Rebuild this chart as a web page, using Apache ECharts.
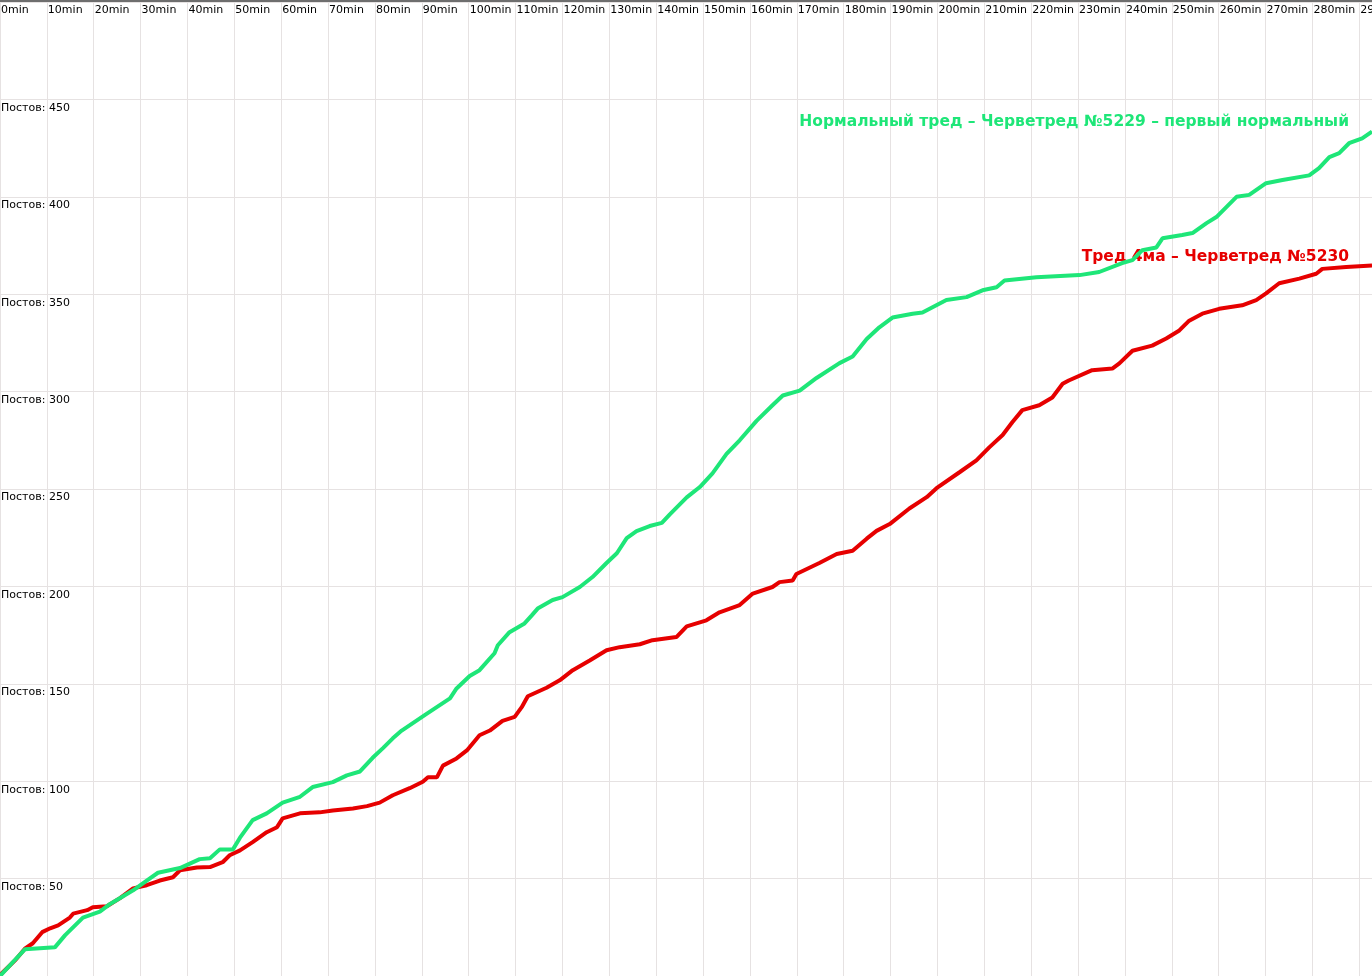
<!DOCTYPE html>
<html>
<head>
<meta charset="utf-8">
<script src="https://cdn.jsdelivr.net/npm/echarts@6/dist/echarts.min.js"></script>
<style>
html,body{margin:0;padding:0;background:#fff;overflow:hidden;}
#chart{width:1372px;height:976px;}
</style>
</head>
<body>
<div id="chart"></div>
<script>
// ---- data ----
const greenMinutes = [0,5.3,11.7,13.9,17.7,21.3,23.5,28.4,31.3,33.7,38.4,42.6,44.8,46.9,49.7,51.2,53.9,56.9,60.3,64,66.7,71,74,76.8,79.5,81.7,83.8,85.7,91,96,97.4,100.2,102.3,105.5,106.2,108.7,111.9,113.4,114.7,117.9,120,123.7,126.4,129.4,131.6,133.7,135.8,138.6,141.2,142.9,146.5,149.3,152,155,157.8,161.4,164.8,167,170.6,174.2,179.1,181.9,184.9,187.6,190.4,194.7,196.8,201.9,206.2,209.6,212.6,214.3,221.1,230.3,234.5,239.4,241.6,243.7,246.7,248,252.2,254.4,257.4,259.5,263.8,266.5,270.1,273.6,279.3,281.4,283.6,285.7,287.8,290.6,292.7];
const greenPosts = [0,13.7,14.7,21,30,33,37,44,49,53,55.4,60,60.5,65,65,71,80,83.5,89,92,97,99.5,103,105,112,117,122,126,134.6,142.5,147.6,154,157,165.7,169.8,176.5,181,185,188.6,193,194.5,199.7,204.8,212,217,224.8,228.4,231,232.6,237,245.7,251,258,268,275,285,293,298,300.5,307,314.6,318,327,333,338,340,340.6,347,348.5,352,353.6,357,358.7,359.8,361.4,366,367.5,372.6,374,378.7,380.4,381.4,386.5,389.6,400,401,407,408.6,411,414.7,420.4,422.4,427.5,430,433.5];
const redMinutes = [0,0.4,3.2,5.3,7,9,10.7,12.4,14.9,15.6,18.6,19.8,22.8,25.6,28.4,31.3,34.1,36.9,38.4,42,44.8,47.5,49,51.2,53.9,56.9,59.1,60.3,64,68.2,71,75.3,78.3,81,83.8,87.4,90.2,91.3,93.2,94.5,97.4,99.6,102.3,104.5,107.2,109.8,111.3,112.6,116.6,119.4,122.2,125.8,129.4,132.2,136.5,139.2,144.3,146.5,150.7,153.5,157.8,160.6,164.8,166.3,169.1,169.9,174.8,178.5,181.9,184.9,187,189.8,194,197.7,199.8,204.7,208.3,211.1,213.9,216,218.1,221.7,224.5,226.7,228,233,237.3,238.8,241.6,245.8,248.8,251.6,253.7,256.5,260.1,265,268,270.1,272.9,277.2,280.8,282.1,287.2,292.7];
const redPosts = [0,1.4,8,14,16.8,22.5,24.5,26,30,32,33.8,35.3,35.8,40,45,46.6,49,50.7,54.3,55.7,55.9,58.4,62,64.5,68.7,73.8,76.4,80.9,83.5,84,85,86,87.2,89,92.8,96.4,99.7,102,102,108,111.7,115.8,123.6,126,131,133,138,143.6,148,151.8,157,162,167.2,168.8,170.3,172.4,174,179.5,182.6,186.7,190.4,196.3,199.7,202.2,203,206.4,212,216.6,218.3,224.5,228.5,232,240,245.8,250.4,258.6,264.7,271.5,277.7,284.4,290.5,293,297,304,305.7,311,311.8,314.5,321,323.6,327.3,331.4,336.4,340,342.5,344.3,347,350.4,355.6,358,360.5,363,364,364.7];
const greenName = 'Нормальный тред – Черветред №5229 – первый нормальный';
const redName = 'Тред 4ма – Черветред №5230';
const xUnit = 'min';
const yPrefix = 'Постов:';

const GREEN = '#1ee678';
const RED = '#e60000';
const FONT = '"DejaVu Sans", Verdana, sans-serif';

const chart = echarts.init(document.getElementById('chart'), null, {renderer: 'canvas'});
const pairs = (xs, ys) => xs.map((x, i) => [x, ys[i]]);

chart.setOption({
  animation: false,
  backgroundColor: '#ffffff',
  grid: {left: 0, right: 0, top: 2, bottom: 0, containLabel: false, outerBoundsMode: 'none'},
  xAxis: {
    type: 'value', position: 'top', min: 0, max: 292.7, interval: 10,
    axisLine: {show: false}, axisTick: {show: false},
    splitLine: {show: true, lineStyle: {color: '#e6e2e2', width: 1}},
    axisLabel: {
      inside: true, margin: 3, align: 'left', verticalAlign: 'top',
      padding: [0, 0, 0, 1],
      color: '#000', fontFamily: FONT, fontSize: 11,
      showMaxLabel: false, hideOverlap: false,
      formatter: v => v + xUnit
    }
  },
  yAxis: {
    type: 'value', min: 0, max: 500, interval: 50,
    axisLine: {show: false}, axisTick: {show: false},
    splitLine: {show: true, lineStyle: {color: '#e6e2e2', width: 1}},
    axisLabel: {
      inside: true, margin: 0, align: 'left', verticalAlign: 'top',
      padding: [3, 0, 0, 1],
      color: '#000', fontFamily: FONT, fontSize: 11,
      formatter: v => (v <= 0 || v >= 500) ? '' : '{a|' + yPrefix + '}{b|' + v + '}',
      rich: {
        a: {width: 48, fontFamily: FONT, fontSize: 11, color: '#000'},
        b: {fontFamily: FONT, fontSize: 11, color: '#000'}
      }
    }
  },
  graphic: [
    {type: 'rect', left: 0, top: 0, z: 100, shape: {width: 1372, height: 2}, style: {fill: '#6e6e6e'}},
    {type: 'text', right: 23, top: 114, z: 1,
      style: {text: greenName, fill: GREEN, font: 'bold 15.5px ' + FONT}},
    {type: 'text', right: 23, top: 249, z: 1,
      style: {text: redName, fill: RED, font: 'bold 15.5px ' + FONT}}
  ],
  series: [
    {type: 'line', name: redName, data: pairs(redMinutes, redPosts), showSymbol: false, z: 3,
      lineStyle: {color: RED, width: 4}, itemStyle: {color: RED}},
    {type: 'line', name: greenName, data: pairs(greenMinutes, greenPosts), showSymbol: false, z: 4,
      lineStyle: {color: GREEN, width: 4}, itemStyle: {color: GREEN}}
  ]
});
</script>
</body>
</html>
